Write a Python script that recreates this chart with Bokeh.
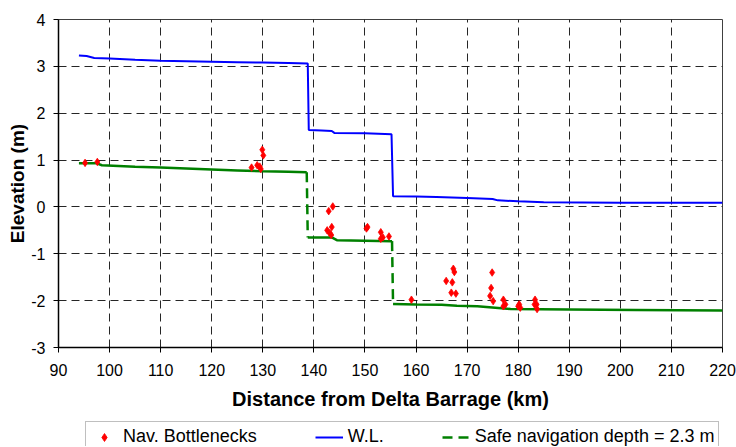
from bokeh.plotting import figure
from bokeh.layouts import column
from bokeh.models import Legend, LegendItem, FixedTicker, Range1d, ColumnDataSource
from bokeh.embed import file_html
from bokeh.resources import INLINE

# ---------------- data ----------------
x_ticks = [90, 100, 110, 120, 130, 140, 150, 160, 170, 180, 190, 200, 210, 220]
y_ticks = [-3, -2, -1, 0, 1, 2, 3, 4]

# Nav. bottlenecks (km, m)
bottle_x = [95.2, 97.6, 127.8, 128.9, 129.4, 129.6, 129.9, 130.1,
            142.6, 142.9, 143.1, 143.4, 143.5, 143.7,
            150.3, 150.5, 153.1, 153.1, 153.5, 154.7,
            159.1, 165.9, 166.9, 167.1, 167.3, 167.5, 167.8,
            174.5, 174.7, 174.9, 175.1, 177.1, 177.1, 177.5,
            180.0, 180.2, 180.4, 183.2, 183.3, 183.6, 183.7]
bottle_y = [0.94, 0.96, 0.84, 0.89, 0.86, 0.81, 1.22, 1.10,
            -0.50, -0.09, -0.56, -0.60, -0.43, 0.01,
            -0.46, -0.43, -0.54, -0.68, -0.65, -0.63,
            -1.98, -1.58, -1.83, -1.61, -1.32, -1.39, -1.85,
            -1.90, -1.73, -1.40, -2.01, -1.98, -2.12, -2.08,
            -2.12, -2.08, -2.15, -2.08, -1.98, -2.08, -2.18]

# Water level
wl_x = [94.0, 95.5, 97.0, 100, 105, 110, 115, 120, 125, 130, 135, 138.8,
        139.0, 141.5, 143.5, 144.0, 150, 155.2,
        155.5, 160, 164, 170, 175, 176, 180, 185, 200, 210, 220]
wl_y = [3.23, 3.22, 3.18, 3.17, 3.14, 3.12, 3.11, 3.10, 3.09, 3.08, 3.07, 3.06,
        1.64, 1.63, 1.62, 1.58, 1.57, 1.55,
        0.23, 0.22, 0.21, 0.19, 0.17, 0.14, 0.12, 0.10, 0.09, 0.09, 0.09]

# Safe navigation depth
sd_x = [94.0, 97.5, 98.5, 105, 110, 115, 120, 125, 130, 135, 138.6,
        138.8, 143.5, 144.5, 150, 155.3,
        155.5, 160, 165, 168, 172, 175.5, 178.5, 190, 203, 220]
sd_y = [0.93, 0.93, 0.89, 0.86, 0.84, 0.82, 0.80, 0.78, 0.76, 0.75, 0.74,
        -0.65, -0.65, -0.71, -0.72, -0.73,
        -2.07, -2.08, -2.09, -2.11, -2.12, -2.15, -2.18, -2.19, -2.20, -2.21]

labels = ["Nav. Bottlenecks", "W.L.", "Safe navigation depth = 2.3 m"]

# ---------------- main figure ----------------
p = figure(frame_width=664, frame_height=328, output_backend="svg",
           toolbar_location=None, title=None,
           x_range=Range1d(90, 220), y_range=Range1d(-3, 4),
           min_border_left=58, min_border_right=14, min_border_top=19,
           min_border_bottom=0)
p.background_fill_color = "white"
p.border_fill_color = "white"
p.outline_line_color = "#404040"
p.outline_line_width = 1

FONT = "Liberation Sans"
for ax in (p.xaxis[0], p.yaxis[0]):
    ax.major_label_text_font = FONT
    ax.major_label_text_font_size = "16px"
    ax.major_label_text_color = "black"
    ax.axis_label_text_font = FONT
    ax.axis_label_text_font_style = "bold"
    ax.axis_label_text_color = "black"
    ax.axis_line_color = "black"
    ax.axis_line_width = 1.5
    ax.major_tick_line_color = "black"
    ax.major_tick_out = 5
    ax.major_tick_in = 0
    ax.minor_tick_out = 0
    ax.minor_tick_in = 0

p.xaxis.ticker = FixedTicker(ticks=x_ticks)
p.yaxis.ticker = FixedTicker(ticks=y_ticks)
p.yaxis.major_label_overrides = {t: str(t) for t in y_ticks}
p.xaxis.axis_label = "Distance from Delta Barrage (km)"
p.yaxis.axis_label = "Elevation (m)"
p.xaxis.axis_label_text_font_size = "20px"
p.yaxis.axis_label_text_font_size = "19px"
p.xaxis.major_label_standoff = 11
p.yaxis.major_label_standoff = 8
p.xaxis.axis_label_standoff = 9
p.yaxis.axis_label_standoff = 0

for g in (p.xgrid[0], p.ygrid[0]):
    g.grid_line_color = "black"
    g.grid_line_dash = "8 5"
    g.grid_line_width = 1
    g.grid_line_alpha = 0.85

# safe depth: solid horizontal runs, dashed vertical drops
runs_x, runs_y = [], []
seg_x0, seg_y0, seg_x1, seg_y1 = [], [], [], []
cur_x, cur_y = [sd_x[0]], [sd_y[0]]
for i in range(1, len(sd_x)):
    if abs(sd_y[i] - sd_y[i - 1]) > 0.3:
        runs_x.append(cur_x); runs_y.append(cur_y)
        seg_x0.append(sd_x[i - 1]); seg_y0.append(sd_y[i - 1])
        seg_x1.append(sd_x[i]); seg_y1.append(sd_y[i])
        cur_x, cur_y = [sd_x[i]], [sd_y[i]]
    else:
        cur_x.append(sd_x[i]); cur_y.append(sd_y[i])
runs_x.append(cur_x); runs_y.append(cur_y)

GREEN, BLUE, RED = "#008000", "#0000FF", "#FF0000"
p.multi_line(xs=runs_x, ys=runs_y, line_color=GREEN, line_width=2.5)
p.segment(x0=seg_x0, y0=seg_y0, x1=seg_x1, y1=seg_y1,
          line_color=GREEN, line_width=2.5, line_dash="10 6")
p.line(wl_x, wl_y, line_color=BLUE, line_width=2)
src_b = ColumnDataSource(dict(x=bottle_x, y=bottle_y))
p.scatter("x", "y", source=src_b, marker="diamond", size=7.5,
          fill_color=RED, line_color=RED, line_width=0.8)

# ---------------- legend strip (same series, view kept off-range) ----------------
lg = figure(width=736, height=34, output_backend="svg", toolbar_location=None,
            title=None, x_range=Range1d(0, 1), y_range=Range1d(0, 1),
            x_axis_type=None, y_axis_type=None, min_border=0)
lg.outline_line_color = None
lg.background_fill_color = "white"
lg.border_fill_color = "white"
l_pts = lg.scatter("x", "y", source=src_b, marker="diamond", size=7.5,
                   fill_color=RED, line_color=RED, line_width=0.8)
l_wl = lg.line(wl_x, wl_y, line_color=BLUE, line_width=2)
l_sd = lg.line(sd_x, sd_y, line_color=GREEN, line_width=2.5, line_dash="10 6")

legend = Legend(items=[
    LegendItem(label=labels[0], renderers=[l_pts]),
    LegendItem(label=labels[1], renderers=[l_wl]),
    LegendItem(label=labels[2], renderers=[l_sd]),
], orientation="horizontal", location=(27, -6), margin=0, padding=4,
    spacing=58, glyph_width=28, glyph_height=20, label_standoff=5,
    label_text_font=FONT, label_text_font_size="18px",
    label_text_color="black", border_line_color="#808080",
    border_line_width=1, background_fill_color="white", background_fill_alpha=1)
lg.add_layout(legend, "center")

layout = column(p, lg, spacing=0)
open("out.html", "w").write(file_html(layout, INLINE))
